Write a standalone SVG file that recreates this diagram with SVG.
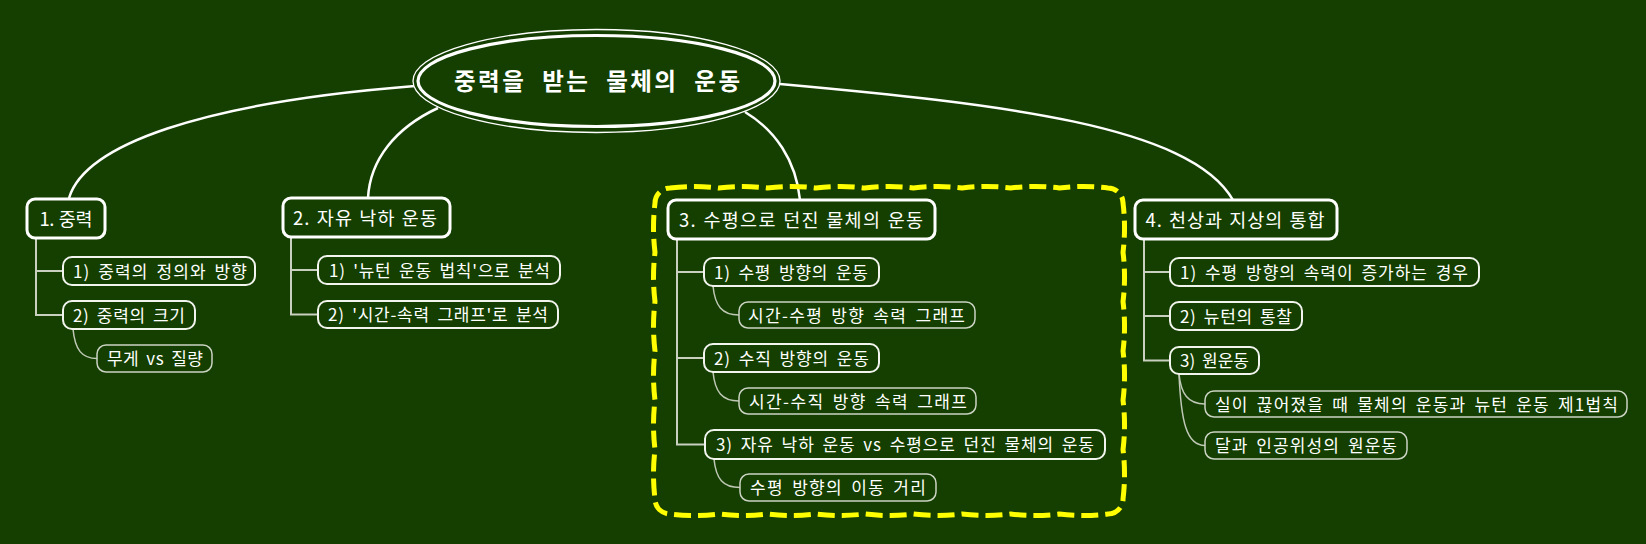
<svg xmlns="http://www.w3.org/2000/svg" width="1646" height="544" viewBox="0 0 1646 544">
<style>
.bg{fill:#143f00}
text{font-family:"Noto Sans CJK KR","Noto Sans",sans-serif;fill:#ffffff;text-anchor:middle}
.t0{font-size:23.5px;font-weight:bold;word-spacing:8px}
.t1{font-size:18.5px;word-spacing:1px}
.t2{font-size:17px;word-spacing:3px}
.n1 rect{fill:#143f00;stroke:#ffffff;stroke-width:3}
.n2 rect{fill:#143f00;stroke:#f2f4ee;stroke-width:2}
.n3 rect{fill:#143f00;stroke:#cbd3c3;stroke-width:1.5}
.c0{fill:none;stroke:#ffffff;stroke-width:2.5}
.c1{fill:none;stroke:#c9d0c0;stroke-width:2}
.c2{fill:none;stroke:#bfc8b5;stroke-width:1.5}
.boundary{fill:none;stroke:#ffff00;stroke-width:5;stroke-dasharray:17 7;stroke-linejoin:round}
</style>
<rect class="bg" x="0" y="0" width="1646" height="544"/>

<g id="connectors">
  <path class="c0" d="M415,86 C200,103 85,145 69,198"/>
  <path class="c0" d="M438,108 C395,128 370,160 368,198"/>
  <path class="c0" d="M745,112 C775,130 796,160 800,200"/>
  <path class="c0" d="M780,84 C1000,104 1190,125 1233,200"/>

  <path class="c1" d="M36,238 V271 H63"/>
  <path class="c1" d="M36,238 V315 H63"/>
  <path class="c1" d="M291,237 V270 H318"/>
  <path class="c1" d="M291,237 V314.5 H318"/>
  <path class="c1" d="M677,239 V272 H704"/>
  <path class="c1" d="M677,239 V358 H704"/>
  <path class="c1" d="M677,239 V444.5 H705"/>
  <path class="c1" d="M1144,239 V272 H1170"/>
  <path class="c1" d="M1144,239 V316 H1170"/>
  <path class="c1" d="M1144,239 V360.5 H1170"/>

  <path class="c2" d="M73,329 C75,350 82,358.5 97,358.5"/>
  <path class="c2" d="M713,286 C715,306 722,315 739,315"/>
  <path class="c2" d="M713,372 C715,392 722,401 739,401"/>
  <path class="c2" d="M714,459 C716,479 723,487.5 740,487.5"/>
  <path class="c2" d="M1179,374 C1181,394 1188,404 1205,404"/>
  <path class="c2" d="M1179,374 C1181,420 1186,445.5 1205,445.5"/>
</g>

<path id="boundary" class="boundary" d="M670,188 q24.33,-3 48.67,0 q24.33,-3 48.67,0 q24.33,-3 48.67,0 q24.33,-3 48.67,0 q24.33,-3 48.67,0 q24.33,-3 48.67,0 q24.33,-3 48.67,0 q24.33,-3 48.67,0 q24.33,-3 48.67,0 a15,15 0 0 1 15,15 q3,24.67 0,49.33 q3,24.67 0,49.33 q3,24.67 0,49.33 q3,24.67 0,49.33 q3,24.67 0,49.33 q3,24.67 0,49.33 a15,15 0 0 1 -15,15 q-24.33,3 -48.67,0 q-24.33,3 -48.67,0 q-24.33,3 -48.67,0 q-24.33,3 -48.67,0 q-24.33,3 -48.67,0 q-24.33,3 -48.67,0 q-24.33,3 -48.67,0 q-24.33,3 -48.67,0 q-24.33,3 -48.67,0 a15,15 0 0 1 -15,-15 q-3,-24.67 0,-49.33 q-3,-24.67 0,-49.33 q-3,-24.67 0,-49.33 q-3,-24.67 0,-49.33 q-3,-24.67 0,-49.33 q-3,-24.67 0,-49.33 a15,15 0 0 1 15,-15 Z"/>

<g id="root">
  <ellipse cx="596.5" cy="81" rx="183.5" ry="51.5" fill="#143f00" stroke="#ffffff" stroke-width="1.3"/>
  <ellipse cx="596.5" cy="81" rx="178.5" ry="45.5" fill="none" stroke="#ffffff" stroke-width="3.2"/>
  <text class="t0" x="597" y="90" textLength="286" lengthAdjust="spacing">중력을 받는 물체의 운동</text>
</g>

<g id="n1" class="n1"><rect x="27" y="199" width="78" height="39" rx="8"/><text class="t1" x="66" y="225.5" textLength="53" lengthAdjust="spacing">1. 중력</text></g>
<g id="n2" class="n1"><rect x="283" y="198" width="167" height="39" rx="8"/><text class="t1" x="365" y="224.5" textLength="144" lengthAdjust="spacing">2. 자유 낙하 운동</text></g>
<g id="n3" class="n1"><rect x="668" y="200" width="267" height="39" rx="8"/><text class="t1" x="801" y="226.5" textLength="244" lengthAdjust="spacing">3. 수평으로 던진 물체의 운동</text></g>
<g id="n4" class="n1"><rect x="1135" y="200" width="202" height="39" rx="8"/><text class="t1" x="1235" y="226.5" textLength="179" lengthAdjust="spacing">4. 천상과 지상의 통합</text></g>

<g id="n1-1" class="n2"><rect x="63" y="257" width="192" height="28" rx="9"/><text class="t2" x="160" y="277.5" textLength="174" lengthAdjust="spacing">1) 중력의 정의와 방향</text></g>
<g id="n1-2" class="n2"><rect x="63" y="301" width="132" height="28" rx="9"/><text class="t2" x="129" y="321.5" textLength="112" lengthAdjust="spacing">2) 중력의 크기</text></g>
<g id="n1-2-1" class="n3"><rect x="97" y="345" width="115" height="27" rx="9"/><text class="t2" x="155" y="365" textLength="96" lengthAdjust="spacing">무게 vs 질량</text></g>

<g id="n2-1" class="n2"><rect x="318" y="256" width="242" height="28" rx="9"/><text class="t2" x="439.5" y="276.5" textLength="221" lengthAdjust="spacing">1) '뉴턴 운동 법칙'으로 분석</text></g>
<g id="n2-2" class="n2"><rect x="318" y="301" width="240" height="27" rx="9"/><text class="t2" x="438" y="321" textLength="220" lengthAdjust="spacing">2) '시간-속력 그래프'로 분석</text></g>

<g id="n3-1" class="n2"><rect x="704" y="258" width="175" height="28" rx="9"/><text class="t2" x="791" y="278.5" textLength="154" lengthAdjust="spacing">1) 수평 방향의 운동</text></g>
<g id="n3-1-1" class="n3"><rect x="739" y="302" width="236" height="26" rx="9"/><text class="t2" x="856.5" y="321.5" textLength="217" lengthAdjust="spacing">시간-수평 방향 속력 그래프</text></g>
<g id="n3-2" class="n2"><rect x="704" y="344" width="175" height="28" rx="9"/><text class="t2" x="791.5" y="364.5" textLength="155" lengthAdjust="spacing">2) 수직 방향의 운동</text></g>
<g id="n3-2-1" class="n3"><rect x="739" y="388" width="237" height="26" rx="9"/><text class="t2" x="858" y="407.5" textLength="218" lengthAdjust="spacing">시간-수직 방향 속력 그래프</text></g>
<g id="n3-3" class="n2"><rect x="705" y="430" width="400" height="29" rx="9"/><text class="t2" x="905" y="451" textLength="378" lengthAdjust="spacing">3) 자유 낙하 운동 vs 수평으로 던진 물체의 운동</text></g>
<g id="n3-3-1" class="n3"><rect x="740" y="474" width="196" height="27" rx="9"/><text class="t2" x="838" y="494" textLength="176" lengthAdjust="spacing">수평 방향의 이동 거리</text></g>

<g id="n4-1" class="n2"><rect x="1170" y="258" width="309" height="28" rx="9"/><text class="t2" x="1324" y="278.5" textLength="288" lengthAdjust="spacing">1) 수평 방향의 속력이 증가하는 경우</text></g>
<g id="n4-2" class="n2"><rect x="1170" y="302" width="132" height="28" rx="9"/><text class="t2" x="1236" y="322.5" textLength="112" lengthAdjust="spacing">2) 뉴턴의 통찰</text></g>
<g id="n4-3" class="n2"><rect x="1170" y="347" width="89" height="27" rx="9"/><text class="t2" x="1214.5" y="367" textLength="69" lengthAdjust="spacing">3) 원운동</text></g>
<g id="n4-3-1" class="n3"><rect x="1205" y="391" width="422" height="26" rx="9"/><text class="t2" x="1416.5" y="410.5" textLength="403" lengthAdjust="spacing">실이 끊어졌을 때 물체의 운동과 뉴턴 운동 제1법칙</text></g>
<g id="n4-3-2" class="n3"><rect x="1205" y="432" width="202" height="27" rx="9"/><text class="t2" x="1306" y="452" textLength="182" lengthAdjust="spacing">달과 인공위성의 원운동</text></g>
</svg>
